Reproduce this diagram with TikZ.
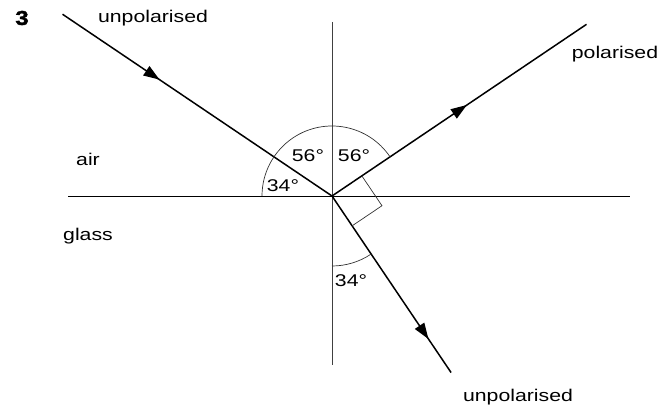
\documentclass[tikz,border=0pt]{standalone}
\usepackage{fontspec}
\setmainfont{Liberation Sans}
\newfontfamily\labfont[FakeStretch=1.25]{Liberation Sans}
\newfontfamily\numfont[FakeStretch=1.2,FakeBold=2]{Liberation Sans Bold}
\usetikzlibrary{arrows.meta,decorations.markings,calc}
\begin{document}
\begin{tikzpicture}[x=1pt,y=1pt,
  ray/.style={line width=1.5pt},
  axis/.style={line width=0.9pt, black!75},
  anglearc/.style={line width=0.7pt, black!80},
  lbl/.style={font=\labfont\fontsize{17}{19}\selectfont, inner sep=0pt},
  midarrow/.style={postaction={decorate, decoration={markings,
     mark=at position #1 with {\arrow{Triangle[length=16pt,width=11pt]}}}}}
]
\useasboundingbox (0,0) rectangle (665,410);
\coordinate (O) at (332,214);
\coordinate (inc) at ($(O)+(146:325)$);
\coordinate (refl) at ($(O)+(34:307)$);
\coordinate (refr) at ($(O)+(-56:213)$);
\coordinate (vtop) at (332,388);
\coordinate (vbot) at (332,45);
\coordinate (hl) at (68,214);
\coordinate (hr) at (630,214);
% axes
\draw[axis] (vtop) -- (vbot);
\draw[axis, black] (hl) -- (hr);
% rays
\draw[ray, midarrow=0.36] (inc) -- (O);
\draw[ray, midarrow=0.53] (O) -- (refl);
\draw[ray, midarrow=0.81] (O) -- (refr);
% angle arcs
\draw[anglearc] ($(O)+(34:70)$) arc[start angle=34, end angle=180, radius=70];
\draw[anglearc] ($(O)+(-90:70)$) arc[start angle=-90, end angle=-56, radius=70];
% right angle marker
\draw[anglearc] ($(O)+(34:36)$) -- ($(O)+(34:36)+(-56:36)$) -- ($(O)+(-56:36)$);
% angle labels
\node[lbl] (a1) at (283,224) {34°};
\node[lbl] (a2) at (308,254) {56°};
\node[lbl] (a3) at (354,254) {56°};
\node[lbl] (a4) at (351,129) {34°};
% text labels
\node[font=\numfont\fontsize{20}{22}\selectfont, inner sep=0pt] (num) at (22,392) {3};
\node[lbl] (t1) at (153,392) {unpolarised};
\node[lbl] (t2) at (615,356) {polarised};
\node[lbl] (t3) at (518,13) {unpolarised};
\node[lbl] (t4) at (88,251) {air};
\node[lbl] (t5) at (88,174) {glass};
\end{tikzpicture}
\end{document}
